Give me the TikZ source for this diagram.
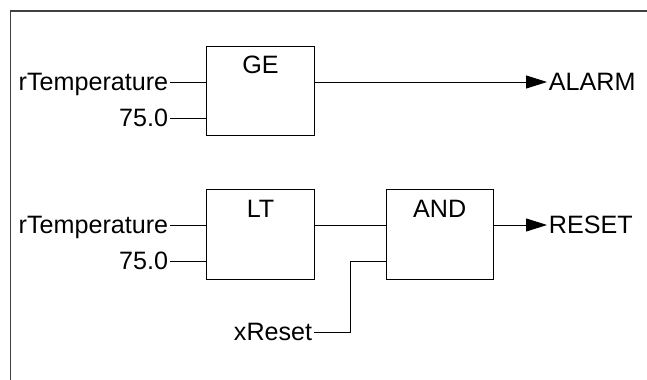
\documentclass[tikz,border=0pt]{standalone}
\usepackage{fontspec}
\setmainfont{Liberation Sans}
\usetikzlibrary{arrows.meta,positioning,calc}

\begin{document}
\begin{tikzpicture}[
  blk/.style={draw, line width=0.55pt, inner sep=0pt, text width=2.15cm, align=center, text height=0.555cm, text depth=1.235cm},
  wire/.style={line width=0.55pt},
  arr/.style={wire, -{Triangle[length=4.2mm, width=2.6mm]}},
  lbl/.style={inner xsep=0.03cm, inner ysep=0pt, text height=10.1pt, text depth=0pt},
  every node/.append style={font=\fontsize{14.3}{17}\selectfont}]
\useasboundingbox (0,0) rectangle (12.94,7.6);
\draw[line width=0.6pt, black!75] (0.21,0) |- (12.94,7.38);
\node[blk] (bGe) at (5.21,5.78) {GE};
\node[blk] (bLt) at (5.21,2.91) {LT};
\node[blk] (bAnd) at (8.795,2.91) {AND};
\node[lbl, anchor=east] (i0) at (3.40,5.96) {rTemperature};
\node[lbl, anchor=east] (i1) at (3.40,5.24) {75.0};
\node[lbl, anchor=east] (i2) at (3.40,3.10) {rTemperature};
\node[lbl, anchor=east] (i3) at (3.40,2.38) {75.0};
\node[lbl, anchor=east] (iReset) at (6.28,0.96) {xReset};
\node[lbl, anchor=west] (oAlarm) at (10.94,5.96) {ALARM};
\node[lbl, anchor=west] (oReset) at (10.94,3.10) {RESET};
\coordinate (jog) at (7.00,2.38);
\foreach \a/\b in {i0/bGe,i1/bGe,i2/bLt,i3/bLt}{\draw[wire] (\a.east) -- (\a.east -| \b.west);}
\draw[arr] (bGe.east |- oAlarm.west) -- (oAlarm.west);
\draw[wire] (bLt.east |- oReset.west) -- (oReset.west -| bAnd.west);
\draw[wire] (iReset.east) -| (jog) -- (jog -| bAnd.west);
\draw[arr] (bAnd.east |- oReset.west) -- (oReset.west);
\end{tikzpicture}
\end{document}
